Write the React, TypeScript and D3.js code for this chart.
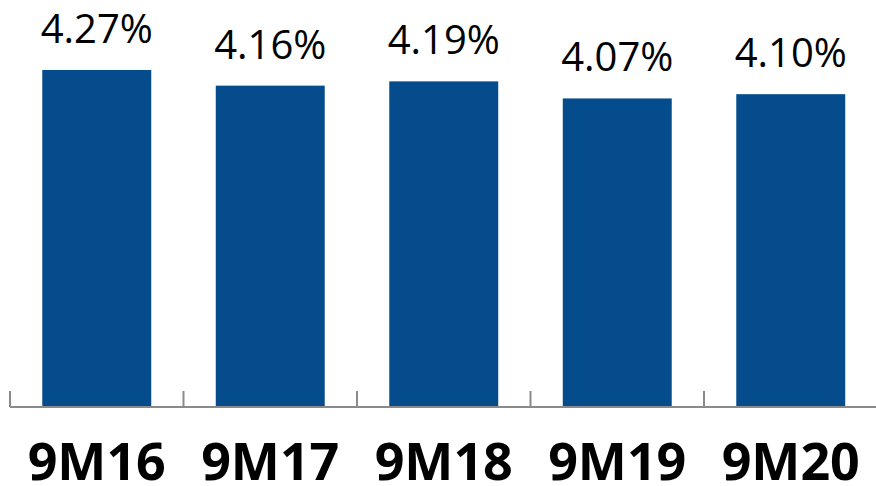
import React from "react";
import * as d3 from "d3";

const categories = ["9M16", "9M17", "9M18", "9M19", "9M20"];
const values = [4.27, 4.16, 4.19, 4.07, 4.1];
const valueLabels = ["4.27%", "4.16%", "4.19%", "4.07%", "4.10%"];

const W = 876;
const H = 486;
const axisY = 407;

export default function App() {
  const x = d3
    .scaleBand<string>()
    .domain(categories)
    .range([10, 877.5])
    .paddingInner(0.372)
    .paddingOuter(0.186);
  const y = d3.scaleLinear().domain([1.9, 4.27]).range([axisY, 70]);
  const step = x.step();
  const x0 = 10;
  const ticks = d3.range(categories.length + 1).map((i) => x0 + i * step);

  return (
    <svg
      width={W}
      height={H}
      style={{ position: "absolute", left: 0, top: 0, background: "#fff" }}
    >
      {categories.map((c, i) => (
        <rect
          key={c}
          x={x(c)}
          y={y(values[i])}
          width={x.bandwidth()}
          height={axisY - y(values[i])}
          fill="#044c8c"
        />
      ))}
      <line x1={x0} x2={W} y1={axisY} y2={axisY} stroke="#8a8a8a" strokeWidth={2} />
      {ticks.map((t, i) => (
        <line key={i} x1={t} x2={t} y1={axisY - 16} y2={axisY} stroke="#8a8a8a" strokeWidth={2} />
      ))}
      {categories.map((c, i) => (
        <text
          key={"v" + c}
          x={(x(c) as number) + x.bandwidth() / 2}
          y={y(values[i]) - 27}
          textAnchor="middle"
          fontFamily="'Open Sans', sans-serif"
          fontSize={40}
          fill="#000"
        >
          {valueLabels[i]}
        </text>
      ))}
      {categories.map((c) => (
        <text
          key={"c" + c}
          x={(x(c) as number) + x.bandwidth() / 2}
          y={480}
          textAnchor="middle"
          fontFamily="'Open Sans', sans-serif"
          fontWeight="bold"
          fontSize={52}
          fill="#000"
        >
          {c}
        </text>
      ))}
    </svg>
  );
}
